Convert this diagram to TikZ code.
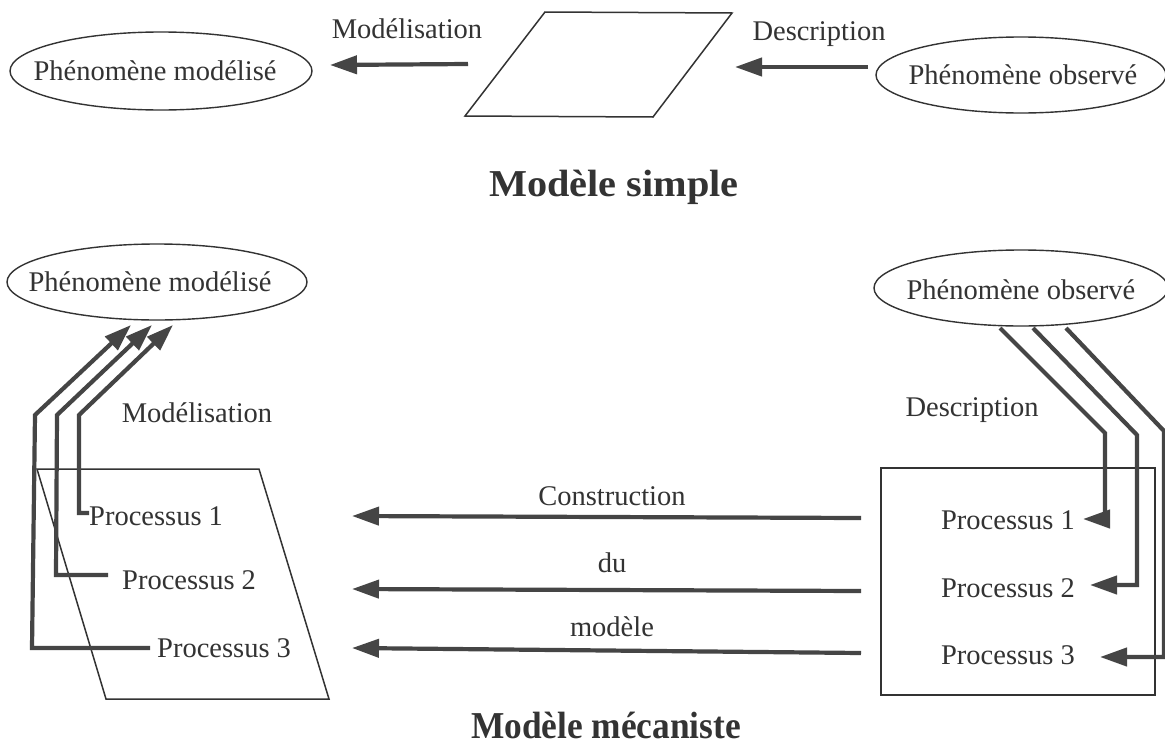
\documentclass[tikz,border=0pt]{standalone}
\usepackage{fontspec}
\setmainfont{Liberation Serif}
\usetikzlibrary{shapes.geometric,arrows.meta}
\definecolor{ink}{HTML}{333333}
\definecolor{lin}{HTML}{454545}
\tikzset{
  txt/.style={font=\fontsize{28.5}{32}\selectfont, text=ink, inner sep=0pt},
  ttl/.style={font=\fontsize{38}{44}\selectfont\bfseries, text=ink, inner sep=0pt, anchor=base},
  ovalline/.style={draw=ink, line width=1.4pt},
  shapeline/.style={draw=ink, line width=1.5pt, line join=miter},
  conn/.style={draw=lin, line width=4.2pt, line join=miter, -{Triangle[length=27pt,width=18pt]}},
}
\begin{document}
\begin{tikzpicture}[x=1pt,y=-1pt]
\useasboundingbox (0,0) rectangle (1165,747);
\fill[white] (0,0) rectangle (1165,747);

% ---------- top: simple model ----------
\node[txt] (pm1) at (155,71) {Phénomène modélisé};
\draw[ovalline] (161,71) ellipse [x radius=151, y radius=39];
\node[txt] (po1) at (1023,75) {Phénomène observé};
\draw[ovalline] (1021,75) ellipse [x radius=145, y radius=38];
\draw[shapeline] (545,12) -- (732,13) -- (653,117) -- (465,116) -- cycle;
\coordinate (ma) at (468,64);
\coordinate (mb) at (330,65);
\coordinate (da) at (868,67);
\coordinate (db) at (735,67);
\draw[conn] (ma) -- (mb);
\draw[conn] (da) -- (db);
\node[txt] (lmod1) at (407,29) {Modélisation};
\node[txt] (ldes1) at (819,34) {Description};
\node[ttl] (t1) at (614,196) {\scalebox{1.06}[1]{Modèle simple}};

% ---------- bottom: mechanistic model ----------
\node[txt] (pm2) at (150,282) {Phénomène modélisé};
\draw[ovalline] (157,282) ellipse [x radius=150, y radius=38];
\node[txt] (po2) at (1021,290) {Phénomène observé};
\draw[ovalline] (1021,288) ellipse [x radius=147, y radius=38];

% left parallelogram
\draw[shapeline] (37,469) -- (259,469) -- (329,699) -- (106,699) -- cycle;
% right box
\draw[shapeline] (881,468) rectangle (1155,695);

% left processes
\node[txt, anchor=west] (lp1) at (89,516) {Processus 1};
\node[txt, anchor=west] (lp2) at (122,580) {Processus 2};
\node[txt, anchor=west] (lp3) at (157,648) {Processus 3};
% right processes
\node[txt] (rp1) at (1008,520) {Processus 1};
\node[txt] (rp2) at (1008,588) {Processus 2};
\node[txt] (rp3) at (1008,655) {Processus 3};

\node[txt] (lmod2) at (197,413) {Modélisation};
\node[txt] (ldes2) at (972,410) {Description};

% modelisation connectors (left)
\coordinate (a1) at (173,325);
\coordinate (a2) at (152,325);
\coordinate (a3) at (131,325);
\coordinate (s1) at (89,513);
\coordinate (s2) at (108,575);
\coordinate (s3) at (150,648);
\draw[conn] (s1) -- (79,513) -- (79,415) -- (a1);
\draw[conn] (s2) -- (56,575) -- (57,415) -- (a2);
\draw[conn] (s3) -- (32,648) -- (35,415) -- (a3);

% description connectors (right)
\coordinate (b1) at (1000,328);
\coordinate (b2) at (1033,328);
\coordinate (b3) at (1066,328);
\coordinate (e1) at (1083,519);
\coordinate (e2) at (1090,585);
\coordinate (e3) at (1100,657);
\draw[conn] (b1) -- (1105,433) -- (1105,519) -- (e1);
\draw[conn] (b2) -- (1137,435) -- (1137,585) -- (e2);
\draw[conn] (b3) -- (1164,431) -- (1164,657) -- (e3);

% construction arrows
\coordinate (c1a) at (861,518);
\coordinate (c1b) at (352,516);
\coordinate (c2a) at (861,591);
\coordinate (c2b) at (352,589);
\coordinate (c3a) at (861,653);
\coordinate (c3b) at (352,648);
\draw[conn] (c1a) -- (c1b);
\draw[conn] (c2a) -- (c2b);
\draw[conn] (c3a) -- (c3b);
\node[txt] (lc) at (612,496) {Construction};
\node[txt] (ld) at (612,563) {du};
\node[txt] (lm) at (612,627) {modèle};

\node[ttl] (t2) at (606,738) {\scalebox{0.93}[1]{Modèle mécaniste}};
\end{tikzpicture}
\end{document}
